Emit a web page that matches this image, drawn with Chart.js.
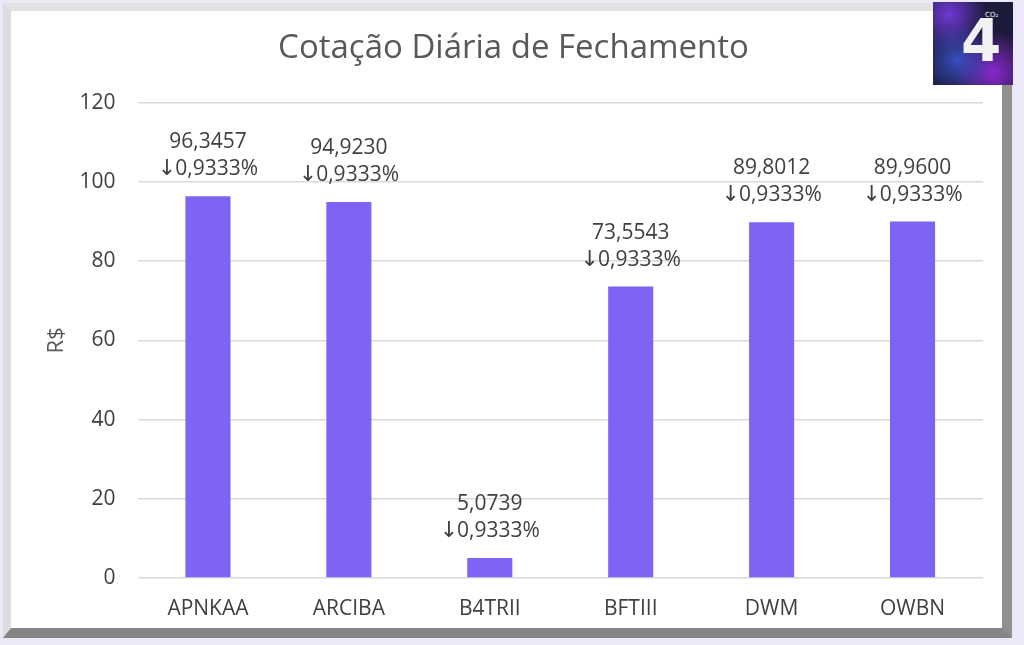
<!DOCTYPE html>
<html>
<head>
<meta charset="utf-8">
<script src="https://cdn.jsdelivr.net/npm/chart.js@4"></script>
<style>
  html, body { margin: 0; padding: 0; }
  body { width: 1024px; height: 645px; background: #ede8f8; position: relative; overflow: hidden; }
  #frame {
    position: absolute; left: 3px; top: 3px; width: 991px; height: 617px;
    background: #fff;
    border-left: 8px solid #dcdcdc; border-top: 8px solid #e2e2e2;
    border-right: 10px solid #8f8f8f; border-bottom: 10px solid #858585;
  }
  #box { position: absolute; left: 0; top: 0; width: 991px; height: 617px; }
  #logo {
    position: absolute; left: 933px; top: 2px; width: 80px; height: 83px;
    background:
      radial-gradient(circle at 30% 70%, rgba(60,90,220,0.8), rgba(0,0,0,0) 45%),
      radial-gradient(circle at 75% 85%, rgba(150,40,220,0.9), rgba(0,0,0,0) 45%),
      radial-gradient(circle at 20% 15%, rgba(120,60,230,0.9), rgba(0,0,0,0) 40%),
      #1c1a3a;
    font-family: "DejaVu Sans", sans-serif; color: #f2f2f2;
  }
  #logo .four { position: absolute; left: 28px; top: 10px; font-size: 58px; font-weight: bold; line-height: 1; }
  #logo .co { position: absolute; left: 52px; top: 9px; font-size: 7px; }
</style>
</head>
<body>
<div id="frame"><div id="box"><canvas id="mycanvas"></canvas></div></div>
<div id="logo"><span class="co">CO₂</span><span class="four">4</span></div>
<script>
var tickers = ["APNKAA", "ARCIBA", "B4TRII", "BFTIII", "DWM", "OWBN"];
var closePrice = [96.3457, 94.9230, 5.0739, 73.5543, 89.8012, 89.9600];
var dailyChange = [0.9333, 0.9333, 0.9333, 0.9333, 0.9333, 0.9333];

function fmt(v) {
	return v.toFixed(4).replace(".", ",");
}

// two-line label over each bar: price, then arrow + change
var barLabels = {
	id: "barLabels",
	afterDatasetsDraw: function(chart) {
		var ctx = chart.ctx;
		var meta = chart.getDatasetMeta(0);
		ctx.save();
		ctx.fillStyle = "#404040";
		ctx.textBaseline = "alphabetic";
		meta.data.forEach(function(bar, i) {
			ctx.font = "21px 'Open Sans'";
			ctx.textAlign = "center";
			ctx.fillText(fmt(closePrice[i]), bar.x, bar.y - 48);
			var txt = fmt(dailyChange[i]) + "%";
			var wTxt = ctx.measureText(txt).width;
			ctx.font = "22px 'DejaVu Sans'";
			var wArr = ctx.measureText("\u2193").width - 1;
			var x0 = bar.x - (wTxt + wArr) / 2;
			ctx.textAlign = "left";
			ctx.fillText("\u2193", x0, bar.y - 21);
			ctx.font = "21px 'Open Sans'";
			ctx.fillText(txt, x0 + wArr, bar.y - 21);
		});
		ctx.restore();
	}
};

var chartdata = {
	labels: tickers,
	datasets: [
		{
			label: "Cotação",
			backgroundColor: "#7f63f4",
			borderWidth: 0,
			data: closePrice,
			categoryPercentage: 1,
			barPercentage: 0.32
		}
	]
};

var ctx = document.getElementById("mycanvas");

var Graph = new Chart(ctx, {
	type: "bar",
	data: chartdata,
	plugins: [barLabels],
	options: {
		responsive: true,
		maintainAspectRatio: false,
		animation: false,
		layout: { padding: { left: 33, right: 19, top: 0, bottom: 0 } },
		plugins: {
			legend: { display: false },
			tooltip: { enabled: false },
			title: {
				display: true,
				text: "Cotação Diária de Fechamento",
				color: "#595959",
				font: { family: "'Open Sans'", size: 33, weight: "normal" },
				padding: { top: 18, bottom: 34 }
			}
		},
		scales: {
			x: {
				afterFit: function(scale) { scale.height = 50; },
				grid: { display: false, drawTicks: false },
				border: { display: false },
				ticks: { color: "#404040", font: { family: "'Open Sans'", size: 21 }, padding: 18 }
			},
			y: {
				min: 0,
				max: 120,
				afterFit: function(scale) { scale.width = 93.5; },
				grid: { color: "#d9d9d9", lineWidth: 1.5, drawTicks: false },
				border: { display: false },
				ticks: { stepSize: 20, color: "#404040", font: { family: "'Open Sans'", size: 21 }, padding: 22 },
				title: { display: true, text: "R$", color: "#595959", font: { family: "'Open Sans'", size: 22 }, padding: 0 }
			}
		}
	}
});
</script>
</body>
</html>
